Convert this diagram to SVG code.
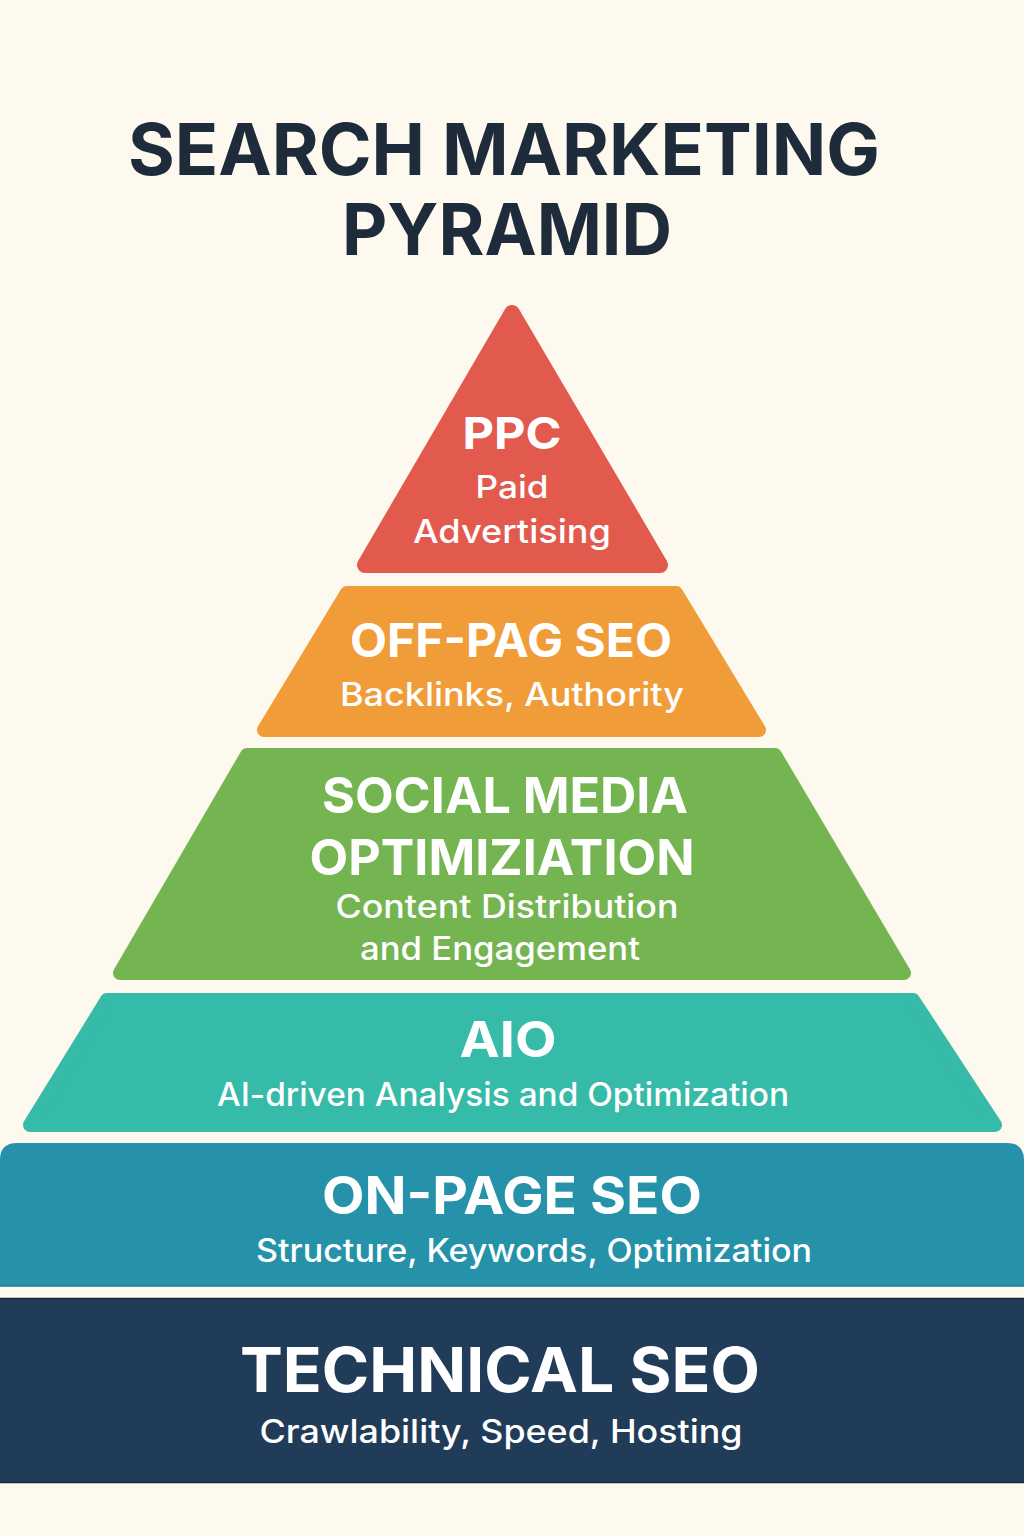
<svg xmlns="http://www.w3.org/2000/svg" width="1024" height="1536" viewBox="0 0 1024 1536">
  <style>
    .title { font-family: Inter, "Liberation Sans", sans-serif; font-weight: 700; fill: #1e2b3b; text-anchor: middle; }
    .head { font-family: Inter, "Liberation Sans", sans-serif; font-weight: 700; fill: #ffffff; text-anchor: middle; }
    .sub { font-family: Inter, "Liberation Sans", sans-serif; font-weight: 500; fill: #ffffff; text-anchor: middle; }
    .layer { stroke-linejoin: round; }
  </style>
  <rect x="0" y="0" width="1024" height="1536" fill="#fdf9ee"/>

  <g id="title">
    <text class="title" x="504" y="175" font-size="72" textLength="752" lengthAdjust="spacingAndGlyphs">SEARCH MARKETING</text>
    <text class="title" x="507" y="255" font-size="72" textLength="330" lengthAdjust="spacingAndGlyphs">PYRAMID</text>
  </g>

  <g id="ppc">
    <polygon class="layer" points="512,313 365,565 660,565" fill="#e25a4e" stroke="#e25a4e" stroke-width="16"/>
    <text class="head" x="512" y="449" font-size="44" textLength="99" lengthAdjust="spacingAndGlyphs">PPC</text>
    <text class="sub" x="512" y="498" font-size="31" textLength="73" lengthAdjust="spacingAndGlyphs">Paid</text>
    <text class="sub" x="512" y="543" font-size="33" textLength="198" lengthAdjust="spacingAndGlyphs">Advertising</text>
  </g>

  <g id="off-page">
    <polygon class="layer" points="347,593 676,593 759,730 264,730" fill="#f09c38" stroke="#f09c38" stroke-width="14"/>
    <text class="head" x="511" y="657" font-size="46" textLength="322" lengthAdjust="spacingAndGlyphs">OFF-PAG SEO</text>
    <text class="sub" x="512" y="706" font-size="32" textLength="344" lengthAdjust="spacingAndGlyphs">Backlinks, Authority</text>
  </g>

  <g id="social">
    <polygon class="layer" points="247,755 775,755 904,973 120,973" fill="#74b551" stroke="#74b551" stroke-width="14"/>
    <text class="head" x="505" y="813" font-size="50" textLength="366" lengthAdjust="spacingAndGlyphs">SOCIAL MEDIA</text>
    <text class="head" x="502" y="875" font-size="50" textLength="385" lengthAdjust="spacingAndGlyphs">OPTIMIZIATION</text>
    <text class="sub" x="507" y="918" font-size="32" textLength="343" lengthAdjust="spacingAndGlyphs">Content Distribution</text>
    <text class="sub" x="500" y="960" font-size="32" textLength="280" lengthAdjust="spacingAndGlyphs">and Engagement</text>
  </g>

  <g id="aio">
    <polygon class="layer" points="107,1000 913,1000 995,1125 30,1125" fill="#35bba7" stroke="#35bba7" stroke-width="14"/>
    <text class="head" x="508" y="1057" font-size="50" textLength="97" lengthAdjust="spacingAndGlyphs">AIO</text>
    <text class="sub" x="503" y="1106" font-size="32" textLength="572" lengthAdjust="spacingAndGlyphs">AI-driven Analysis and Optimization</text>
  </g>

  <g id="on-page">
    <path d="M0,1286 V1160 Q0,1143 17,1143 H1007 Q1024,1143 1024,1160 V1286 Z" fill="#2592a9"/>
    <line x1="0" y1="1286" x2="1024" y2="1286" stroke="#1d7a8e" stroke-width="1.5"/>
    <text class="head" x="512" y="1214" font-size="52" textLength="380" lengthAdjust="spacingAndGlyphs">ON-PAGE SEO</text>
    <text class="sub" x="534" y="1262" font-size="32" textLength="556" lengthAdjust="spacingAndGlyphs">Structure, Keywords, Optimization</text>
  </g>

  <g id="technical">
    <rect x="0" y="1298" width="1024" height="185" fill="#213c58"/>
    <line x1="0" y1="1298.5" x2="1024" y2="1298.5" stroke="#16283b" stroke-width="1.5"/>
    <line x1="0" y1="1482.5" x2="1024" y2="1482.5" stroke="#16283b" stroke-width="1.5"/>
    <text class="head" x="500" y="1392" font-size="62" textLength="520" lengthAdjust="spacingAndGlyphs">TECHNICAL SEO</text>
    <text class="sub" x="501" y="1443" font-size="32" textLength="483" lengthAdjust="spacingAndGlyphs">Crawlability, Speed, Hosting</text>
  </g>

  <g id="connectors"/>
</svg>
